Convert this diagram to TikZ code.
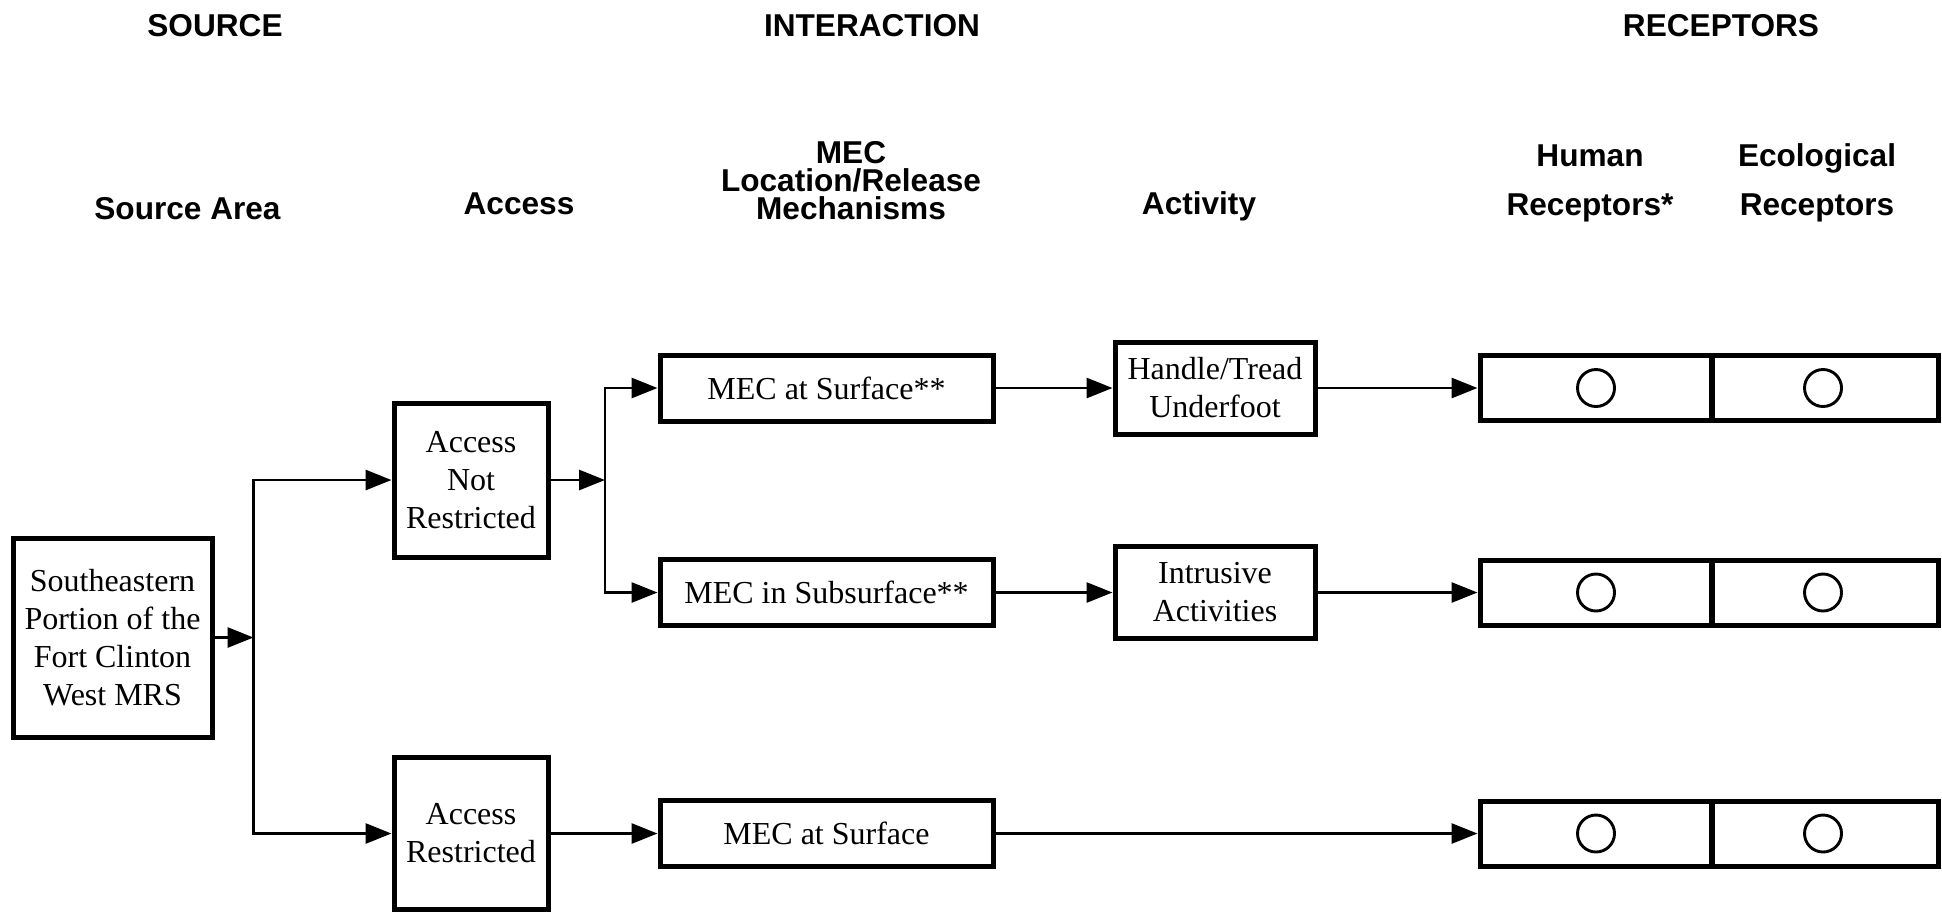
\documentclass[tikz,border=0pt]{standalone}
\usepackage{fontspec}
\setmainfont{Liberation Serif}
\newfontfamily\hdfont{Liberation Sans}
\newcommand\mecfont{\hdfont\bfseries\fontsize{15.8}{14}\selectfont\lineskiplimit=-10pt\relax}
\usetikzlibrary{arrows.meta}

\begin{document}
\begin{tikzpicture}[x=0.5pt, y=-0.5pt,
  box/.style={draw, line width=2.5pt, inner sep=0pt, align=center,
    font=\fontsize{16}{19}\selectfont},
  hdr/.style={font=\hdfont\bfseries\fontsize{15.8}{24.5}\selectfont,
    align=center, anchor=base},
  arr/.style={line width=1.45pt, -{Triangle[length=13pt, width=10pt]}},
  dot/.style={draw, circle, line width=1.45pt, minimum size=18.5pt, inner sep=0pt}]
  \useasboundingbox (0,0) rectangle (1942,912);

  % headings
  \node[hdr] (hsource) at (215,36.5) {SOURCE};
  \node[hdr] (hinter) at (872,36.5) {INTERACTION};
  \node[hdr] (hrecep) at (1721,36.5) {RECEPTORS};
  \node[hdr] (harea) at (187.5,219) {Source Area};
  \node[hdr] (haccess) at (519,214) {Access};
  \node[hdr, font=\mecfont] (hmec) at (851,219) {MEC\\Location/Release\\Mechanisms};
  \node[hdr] (hact) at (1199,214) {Activity};
  \node[hdr] (hhuman) at (1590,215) {Human\\Receptors*};
  \node[hdr] (heco) at (1817,215) {Ecological\\Receptors};

  % boxes
  \node[box, minimum width=99.5pt, minimum height=99.5pt] (src) at (112.5,637.5)
    {Southeastern\\Portion of the\\Fort Clinton\\West MRS};
  \node[box, minimum width=77pt, minimum height=77pt] (anr) at (471,480)
    {Access\\Not\\Restricted};
  \node[box, minimum width=77pt, minimum height=76pt] (ar) at (471,833.5)
    {Access\\Restricted};
  \node[box, minimum width=166.5pt, minimum height=33pt] (mec1) at (826.5,388)
    {MEC at Surface**};
  \node[box, minimum width=166.5pt, minimum height=33pt] (mec2) at (826.5,592.5)
    {MEC in Subsurface**};
  \node[box, minimum width=166.5pt, minimum height=33pt] (mec3) at (826.5,833.5)
    {MEC at Surface};
  \node[box, minimum width=100pt, minimum height=46pt] (hand) at (1215,388)
    {Handle/Tread\\Underfoot};
  \node[box, minimum width=100pt, minimum height=46pt] (intr) at (1215,592.5)
    {Intrusive\\Activities};

  % receptor rows
  \node[box, minimum width=116pt, minimum height=32.5pt] (hum1) at (1596,388) {};
  \node[box, minimum width=113.5pt, minimum height=32.5pt] (eco1) at (1825,388) {};
  \node[box, minimum width=116pt, minimum height=32.5pt] (hum2) at (1596,592.5) {};
  \node[box, minimum width=113.5pt, minimum height=32.5pt] (eco2) at (1825,592.5) {};
  \node[box, minimum width=116pt, minimum height=32.5pt] (hum3) at (1596,833.5) {};
  \node[box, minimum width=113.5pt, minimum height=32.5pt] (eco3) at (1825,833.5) {};
  \node[dot] (dh1) at (1596,388) {};
  \node[dot] (de1) at (1823,388) {};
  \node[dot] (dh2) at (1596,592.5) {};
  \node[dot] (de2) at (1823,592.5) {};
  \node[dot] (dh3) at (1596,833.5) {};
  \node[dot] (de3) at (1823,833.5) {};

  % connectors
  \coordinate (j1) at (253.5,637.5);
  \coordinate (j2) at (605,480);
  \draw[arr] (src) -- (j1);
  \draw[arr] (j1) |- (anr);
  \draw[arr] (j1) |- (ar);
  \draw[arr] (anr) -- (j2);
  \draw[arr] (j2) |- (mec1);
  \draw[arr] (j2) |- (mec2);
  \draw[arr] (ar) -- (mec3);
  \draw[arr] (mec1) -- (hand);
  \draw[arr] (mec2) -- (intr);
  \draw[arr] (hand) -- (hum1);
  \draw[arr] (intr) -- (hum2);
  \draw[arr] (mec3) -- (hum3);
\end{tikzpicture}
\end{document}
